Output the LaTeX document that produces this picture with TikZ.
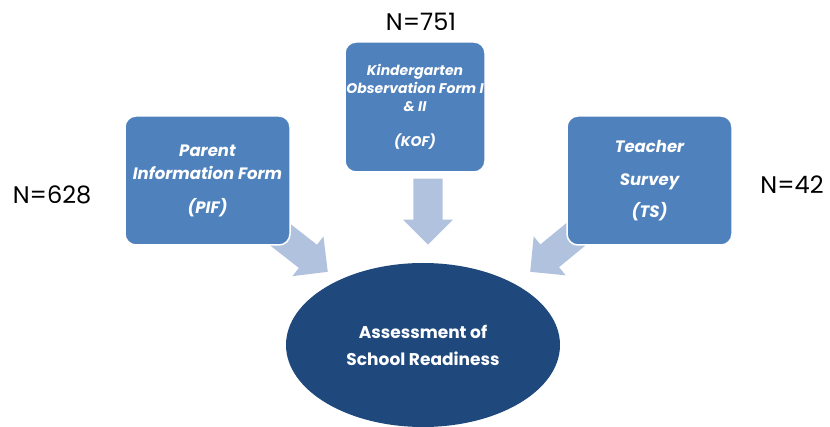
\documentclass[tikz,border=0pt]{standalone}
\usepackage{fontspec}
\setmainfont{Poppins}
\usetikzlibrary{shapes.arrows,shapes.geometric}
\definecolor{boxblue}{HTML}{4F81BD}
\definecolor{darkblue}{HTML}{1F497D}
\definecolor{arrowblue}{HTML}{B1C2DE}
\begin{document}
\begin{tikzpicture}[x=1pt,y=-1pt,
 srcbox/.style={draw=white, line width=1.5pt, fill=boxblue, rounded corners=11pt, text=white,
   font=\bfseries\itshape\fontsize{16.5}{19}\selectfont, align=center, inner sep=0pt},
 blockarrow/.style={single arrow, fill=arrowblue, draw=none, minimum width=0pt,
   inner xsep=0pt, inner ysep=14.5pt, single arrow head extend=10.5pt},
 nlabel/.style={font=\fontsize{24}{28}\selectfont, inner sep=0pt}]
\useasboundingbox (0,0) rectangle (830,427);
% block arrows
\node[blockarrow, minimum height=66pt, rotate=-90, anchor=tip] (a2) at (428,245) {};
\node[blockarrow, minimum height=62pt, rotate=-38, anchor=tip] (a1) at (328,272) {};
\node[blockarrow, minimum height=62pt, rotate=-140.6, anchor=tip] (a3) at (530,272) {};
% source boxes
\node[srcbox, minimum width=165pt, minimum height=129pt] (pif) at (207.5,180.5)
  {Parent\\[4pt]Information Form\\[15pt](PIF)};
\node[srcbox, minimum width=140pt, minimum height=130pt,
  font=\bfseries\itshape\fontsize{14}{18}\selectfont] (kof) at (415,107)
  {Kindergarten\\Observation Form I\\\& II\\[17pt](KOF)};
\node[srcbox, minimum width=165pt, minimum height=129pt] (ts) at (649.5,180.5)
  {Teacher\\[14pt]Survey\\[11pt](TS)};
% target
\node[ellipse, fill=darkblue, minimum width=274pt, minimum height=164pt, inner sep=0pt,
  text=white, align=center, font=\bfseries\fontsize{17}{27}\selectfont] (asr) at (423,345)
  {Assessment of\\School Readiness};
% counts
\node[nlabel] (n1) at (52,195) {N=628};
\node[nlabel] (n2) at (421,22) {N=751};
\node[nlabel] (n3) at (792,185) {N=42};
\end{tikzpicture}
\end{document}
